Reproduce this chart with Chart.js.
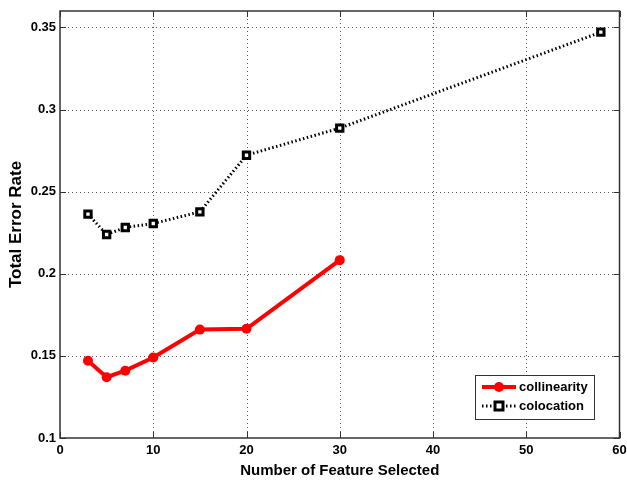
<!DOCTYPE html>
<html>
<head>
<meta charset="utf-8">
<script src="https://cdn.jsdelivr.net/npm/chart.js@4.4.0/dist/chart.umd.min.js"></script>
<style>
  html, body { margin: 0; padding: 0; background: #fff; }
  #wrap { width: 627px; height: 480px; }
</style>
</head>
<body>
<div id="wrap"><canvas id="chart" width="627" height="480"></canvas></div>
<script>
var featureCounts = [3, 5, 7, 10, 15, 20, 30];
var colocationCounts = [3, 5, 7, 10, 15, 20, 30, 58];
var collinearity = [0.147, 0.137, 0.141, 0.149, 0.166, 0.1665, 0.2083];
var colocation = [0.2363, 0.2239, 0.2282, 0.2306, 0.2377, 0.2722, 0.2887, 0.3471];
var xTicks = [0, 10, 20, 30, 40, 50, 60];
var yTicks = [0.1, 0.15, 0.2, 0.25, 0.3, 0.35];

function toPoints(xs, ys) {
    return xs.map(function (x, i) { return { x: x, y: ys[i] }; });
}

var FONT = 'Arial, "Liberation Sans", sans-serif';

var framePlugin = {
    id: 'frame',
    beforeDatasetsDraw: function (chart) {
        var ctx = chart.ctx, a = chart.chartArea;
        var xs = chart.scales.x, ys = chart.scales.y;
        ctx.save();
        // dotted grid
        ctx.strokeStyle = '#555';
        ctx.lineWidth = 1;
        ctx.setLineDash([1, 3]);
        xTicks.forEach(function (v) {
            if (v === xTicks[0] || v === xTicks[xTicks.length - 1]) return;
            var px = Math.round(xs.getPixelForValue(v)) + 0.5;
            ctx.beginPath(); ctx.moveTo(px, a.top); ctx.lineTo(px, a.bottom); ctx.stroke();
        });
        yTicks.forEach(function (v) {
            if (v === yTicks[0]) return;
            var py = Math.round(ys.getPixelForValue(v)) + 0.5;
            ctx.beginPath(); ctx.moveTo(a.left, py); ctx.lineTo(a.right, py); ctx.stroke();
        });
        ctx.setLineDash([]);
        // inner ticks
        ctx.strokeStyle = '#333';
        xTicks.forEach(function (v) {
            var px = Math.round(xs.getPixelForValue(v)) + 0.5;
            ctx.beginPath(); ctx.moveTo(px, a.bottom); ctx.lineTo(px, a.bottom - 6); ctx.stroke();
            ctx.beginPath(); ctx.moveTo(px, a.top); ctx.lineTo(px, a.top + 6); ctx.stroke();
        });
        yTicks.forEach(function (v) {
            var py = Math.round(ys.getPixelForValue(v)) + 0.5;
            ctx.beginPath(); ctx.moveTo(a.left, py); ctx.lineTo(a.left + 6, py); ctx.stroke();
            ctx.beginPath(); ctx.moveTo(a.right, py); ctx.lineTo(a.right - 6, py); ctx.stroke();
        });
        ctx.restore();
    },
    afterDraw: function (chart) {
        var ctx = chart.ctx, a = chart.chartArea;
        ctx.save();
        ctx.strokeStyle = '#333';
        ctx.lineWidth = 1.5;
        ctx.strokeRect(a.left, a.top, a.right - a.left, a.bottom - a.top);

        // legend box
        var lx = 475, ly = 375, lw = 119, lh = 44;
        ctx.fillStyle = '#fff';
        ctx.fillRect(lx, ly, lw, lh);
        ctx.strokeStyle = '#333';
        ctx.lineWidth = 1;
        ctx.strokeRect(lx + 0.5, ly + 0.5, lw, lh);

        // collinearity entry
        var y1 = ly + 12;
        ctx.strokeStyle = '#ff0000';
        ctx.lineWidth = 4;
        ctx.beginPath(); ctx.moveTo(lx + 7, y1); ctx.lineTo(lx + 41, y1); ctx.stroke();
        ctx.fillStyle = '#ff0000';
        ctx.beginPath(); ctx.arc(lx + 24, y1, 5, 0, Math.PI * 2); ctx.fill();

        // colocation entry
        var y2 = ly + 31;
        ctx.strokeStyle = '#000';
        ctx.lineWidth = 3;
        ctx.setLineDash([1.5, 2.5]);
        ctx.beginPath(); ctx.moveTo(lx + 7, y2); ctx.lineTo(lx + 41, y2); ctx.stroke();
        ctx.setLineDash([]);
        ctx.fillStyle = '#fff';
        ctx.fillRect(lx + 20, y2 - 4, 8, 8);
        ctx.lineWidth = 3;
        ctx.strokeRect(lx + 20, y2 - 4, 8, 8);

        ctx.fillStyle = '#000';
        ctx.font = 'bold 13px ' + FONT;
        ctx.textBaseline = 'middle';
        ctx.fillText('collinearity', lx + 44, y1);
        ctx.fillText('colocation', lx + 44, y2);
        ctx.restore();
    }
};

new Chart(document.getElementById('chart'), {
    type: 'line',
    data: {
        datasets: [
            {
                label: 'collinearity',
                data: toPoints(featureCounts, collinearity),
                borderColor: '#ff0000',
                backgroundColor: '#ff0000',
                borderWidth: 4,
                pointStyle: 'circle',
                pointRadius: 5,
                pointBorderWidth: 0,
                tension: 0
            },
            {
                label: 'colocation',
                data: toPoints(colocationCounts, colocation),
                borderColor: '#000',
                backgroundColor: '#fff',
                borderWidth: 3,
                borderDash: [1.5, 2.5],
                pointStyle: 'rect',
                pointRadius: 4.5,
                pointBorderWidth: 3,
                pointBorderColor: '#000',
                tension: 0
            }
        ]
    },
    options: {
        responsive: false,
        animation: false,
        layout: { padding: { top: 11, right: 6, left: 0, bottom: 0 } },
        plugins: {
            legend: { display: false },
            tooltip: { enabled: false }
        },
        scales: {
            x: {
                type: 'linear',
                min: 0,
                max: 60,
                afterBuildTicks: function (axis) {
                    axis.ticks = xTicks.map(function (v) { return { value: v }; });
                },
                afterFit: function (axis) {
                    axis.height = 42;
                    axis.paddingLeft = 0;
                    axis.paddingRight = 0;
                },
                grid: { display: false, drawTicks: false },
                border: { display: false },
                ticks: {
                    color: '#000',
                    padding: 5,
                    font: { family: FONT, size: 13, weight: 'bold' }
                },
                title: {
                    display: true,
                    text: 'Number of Feature Selected',
                    color: '#000',
                    padding: { top: 3, bottom: 0 },
                    font: { family: FONT, size: 15, weight: 'bold' }
                }
            },
            y: {
                type: 'linear',
                min: 0.1,
                max: 0.36,
                afterBuildTicks: function (axis) {
                    axis.ticks = yTicks.map(function (v) { return { value: v }; });
                },
                afterFit: function (axis) {
                    axis.width = 60;
                    axis.paddingTop = 0;
                    axis.paddingBottom = 0;
                },
                grid: { display: false, drawTicks: false },
                border: { display: false },
                ticks: {
                    color: '#000',
                    padding: 4,
                    font: { family: FONT, size: 13, weight: 'bold' },
                    callback: function (v) { return String(Math.round(v * 100) / 100); }
                },
                title: {
                    display: true,
                    text: 'Total Error Rate',
                    color: '#000',
                    padding: { top: 6, bottom: 0 },
                    font: { family: FONT, size: 17, weight: 'bold' }
                }
            }
        }
    },
    plugins: [framePlugin]
});
</script>
</body>
</html>
